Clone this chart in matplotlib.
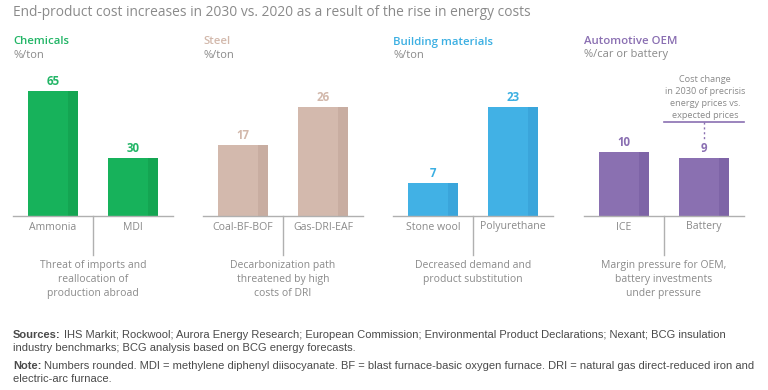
import matplotlib
matplotlib.use("Agg")
import matplotlib.pyplot as plt

plt.rcParams['font.family'] = ['Open Sans', 'DejaVu Sans']

W, H = 768, 390

# data
panels = ["Chemicals", "Steel", "Building materials", "Automotive OEM"]
units = ["%/ton", "%/ton", "%/ton", "%/car or battery"]
chem_labels = ["Ammonia", "MDI"]
chem_values = [65, 30]
steel_labels = ["Coal-BF-BOF", "Gas-DRI-EAF"]
steel_values = [17, 26]
build_labels = ["Stone wool", "Polyurethane"]
build_values = [7, 23]
auto_labels = ["ICE", "Battery"]
auto_values = [10, 9]
notes = ["Threat of imports and\nreallocation of\nproduction abroad",
         "Decarbonization path\nthreatened by high\ncosts of DRI",
         "Decreased demand and\nproduct substitution",
         "Margin pressure for OEM,\nbattery investments\nunder pressure"]
callout = "Cost change\nin 2030 of precrisis\nenergy prices vs.\nexpected prices"

colors = ["#17b25b", "#d3b9ad", "#41b1e5", "#8a70b1"]
shades = ["#14a552", "#c8ada1", "#3aa5db", "#7e64a7"]
title_colors = ["#22b566", "#d2b8ab", "#3bafe2", "#8a6fb2"]
ymax = [70.7, 32.4, 28.7, 21.25]

fig = plt.figure(figsize=(W / 100, H / 100), dpi=100)


def fx(x):
    return x / W


def fy(y):
    return 1 - y / H


gray = "#8a8a8a"
fig.text(fx(13), fy(12), "End-product cost increases in 2030 vs. 2020 as a result of the rise in energy costs",
         fontsize=9.9, color=gray, va="center", ha="left")

lefts = [13, 203, 393, 584]
all_labels = [chem_labels, steel_labels, build_labels, auto_labels]
all_values = [chem_values, steel_values, build_values, auto_values]
axes = []
for k in range(4):
    x0 = lefts[k]
    ax = fig.add_axes([fx(x0), fy(216), fx(160), 136 / H])
    axes.append(ax)
    vals = all_values[k]
    pos = [0, 1]
    ax.bar(pos, vals, width=0.625, color=colors[k], linewidth=0)
    # darker right edge strip of each bar
    ax.bar([p + 0.3125 - 0.0625 for p in pos], vals, width=0.125, color=shades[k], linewidth=0)
    for p, v in zip(pos, vals):
        ax.annotate(str(v), xy=(p, v), xytext=(0, 3), textcoords="offset pixels",
                    ha="center", va="bottom", fontsize=8.3, fontweight="bold", color=title_colors[k])
        ax.annotate(all_labels[k][p], xy=(p, 0), xycoords=ax.get_xaxis_transform(),
                    xytext=(0, -11), textcoords="offset pixels",
                    ha="center", va="center", fontsize=7.6, color=gray)
    ax.set_xlim(-0.5, 1.5)
    ax.set_ylim(0, ymax[k])
    for s in ["top", "right", "left"]:
        ax.spines[s].set_visible(False)
    ax.spines["bottom"].set_color("#b0b0b0")
    ax.spines["bottom"].set_linewidth(1)
    ax.set_xticks([])
    ax.set_yticks([])
    ax.patch.set_alpha(0)
    ax.plot([0.5, 0.5], [0, -39 / 136], transform=ax.get_xaxis_transform(),
            color="#b0b0b0", lw=1, clip_on=False)

    fig.text(fx(x0), fy(42), panels[k], fontsize=8.2, color=title_colors[k],
             fontweight="semibold", va="center", ha="left")
    fig.text(fx(x0), fy(55), units[k], fontsize=8.0, color=gray, va="center", ha="left")
    fig.text(fx(x0 + 80), fy(260), notes[k], fontsize=7.45, color=gray, va="top",
             ha="center", linespacing=1.4)

# callout on the automotive panel
ax = axes[3]
yl = (216 - 122) / 136 * ymax[3]
yd = (216 - 139) / 136 * ymax[3]
ax.plot([0.5, 1.5], [yl, yl], color=colors[3], lw=1.2, clip_on=False)
ax.plot([1, 1], [yl, yd], color=colors[3], lw=1, ls=(0, (1.5, 2)), clip_on=False)
fig.text(fx(705), fy(120), callout, fontsize=6.6, color=gray, ha="center", va="bottom",
         linespacing=1.45)

# footer
foot = "#4a4a4a"
ffam = ["Liberation Sans", "DejaVu Sans"]
fsize = 8.0
renderer = fig.canvas.get_renderer()


def bold_lead(x, y, lead, rest):
    t = fig.text(fx(x), fy(y), lead, fontsize=fsize, fontweight="bold", color=foot,
                 family=ffam, va="center", ha="left")
    bb = t.get_window_extent(renderer=renderer)
    fig.text(bb.x1 / W + 3 / W, fy(y), rest, fontsize=fsize, color=foot,
             family=ffam, va="center", ha="left")


bold_lead(13, 335, "Sources:", "IHS Markit; Rockwool; Aurora Energy Research; European Commission; "
          "Environmental Product Declarations; Nexant; BCG insulation")
fig.text(fx(13), fy(348), "industry benchmarks; BCG analysis based on BCG energy forecasts.",
         fontsize=fsize, color=foot, family=ffam, va="center", ha="left")
bold_lead(13, 366, "Note:", "Numbers rounded. MDI = methylene diphenyl diisocyanate. BF = blast "
          "furnace-basic oxygen furnace. DRI = natural gas direct-reduced iron and")
fig.text(fx(13), fy(379), "electric-arc furnace.", fontsize=fsize, color=foot, family=ffam,
         va="center", ha="left")

fig.savefig("out.png", dpi=100)
